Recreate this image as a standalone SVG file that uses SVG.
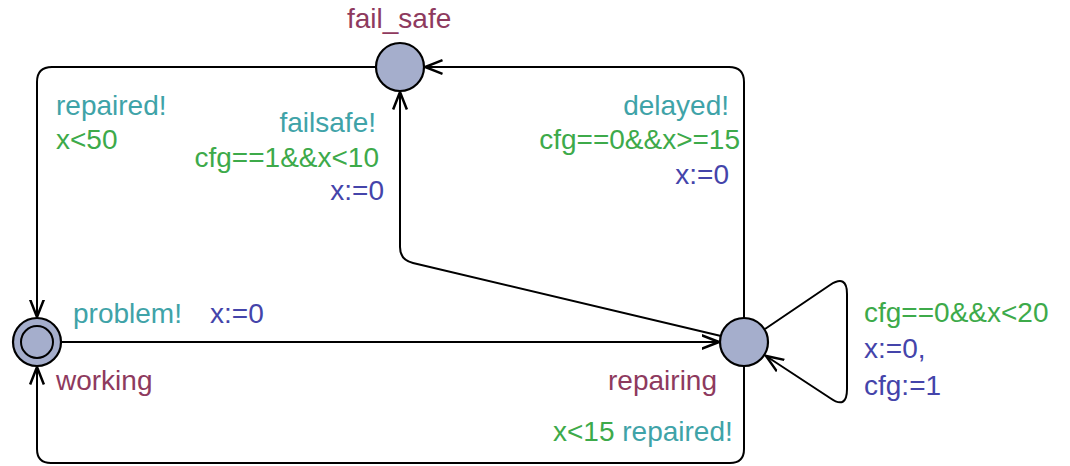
<svg xmlns="http://www.w3.org/2000/svg" width="1070" height="466" viewBox="0 0 1070 466">
<style>
text{font-family:"Liberation Sans",Arial,sans-serif;font-size:28px}
.n{fill:#8e3a5e}.s{fill:#3fa3a8}.g{fill:#3daa4a}.a{fill:#4444aa}
.e{fill:none;stroke:#000;stroke-width:2;marker-end:url(#ar)}
.loc{fill:#a5aecc;stroke:#000;stroke-width:2.2}
</style>
<defs>
<marker id="ar" markerUnits="userSpaceOnUse" markerWidth="20" markerHeight="20" refX="0" refY="0" viewBox="-14 -8 16 16" orient="auto">
<path d="M-14 -5.5 L0 0 L-14 5.5" fill="none" stroke="#000" stroke-width="2"/>
</marker>
</defs>
<rect width="1070" height="466" fill="#fff"/>
<g id="connectors">
<path class="e" d="M376 67 L52 67 Q37 67 37 82 L37 317"/>
<path class="e" d="M721 336 L413 263 Q400 260 400 247 L400 92"/>
<path class="e" d="M744 318 L744 82 Q744 67 729 67 L425 67"/>
<path class="e" d="M62 342 L719 342"/>
<path class="e" d="M744 367 L744 449 Q744 463 730 463 L51 463 Q37 463 37 449 L37 367"/>
<path class="e" d="M765 329 L830 285 Q847 274 847 294 L847 389 Q847 410 830 398 L766 356"/>
<text x="56" y="115" class="s">repaired!</text>
<text x="56" y="149" class="g">x&lt;50</text>
<text x="376" y="132" class="s" text-anchor="end">failsafe!</text>
<text x="379" y="167" class="g" text-anchor="end">cfg==1&amp;&amp;x&lt;10</text>
<text x="384" y="200" class="a" text-anchor="end">x:=0</text>
<text x="729" y="115" class="s" text-anchor="end">delayed!</text>
<text x="740" y="149" class="g" text-anchor="end">cfg==0&amp;&amp;x&gt;=15</text>
<text x="729" y="184" class="a" text-anchor="end">x:=0</text>
<text x="73" y="323" class="s">problem!</text>
<text x="210" y="323" class="a">x:=0</text>
<text x="553" y="441"><tspan class="g">x&lt;15</tspan> <tspan class="s">repaired!</tspan></text>
<text x="864" y="322" class="g">cfg==0&amp;&amp;x&lt;20</text>
<text x="864" y="358" class="a">x:=0,</text>
<text x="864" y="395" class="a">cfg:=1</text>
</g>
<g id="fail_safe">
<circle class="loc" cx="400" cy="67" r="24"/>
<text x="347" y="28" class="n">fail_safe</text>
</g>
<g id="working">
<circle class="loc" cx="37" cy="342" r="24"/>
<circle cx="37" cy="342" r="16" fill="none" stroke="#000" stroke-width="2"/>
<text x="56" y="390" class="n">working</text>
</g>
<g id="repairing">
<circle class="loc" cx="744" cy="342" r="24"/>
<text x="717" y="390" class="n" text-anchor="end">repairing</text>
</g>
</svg>
